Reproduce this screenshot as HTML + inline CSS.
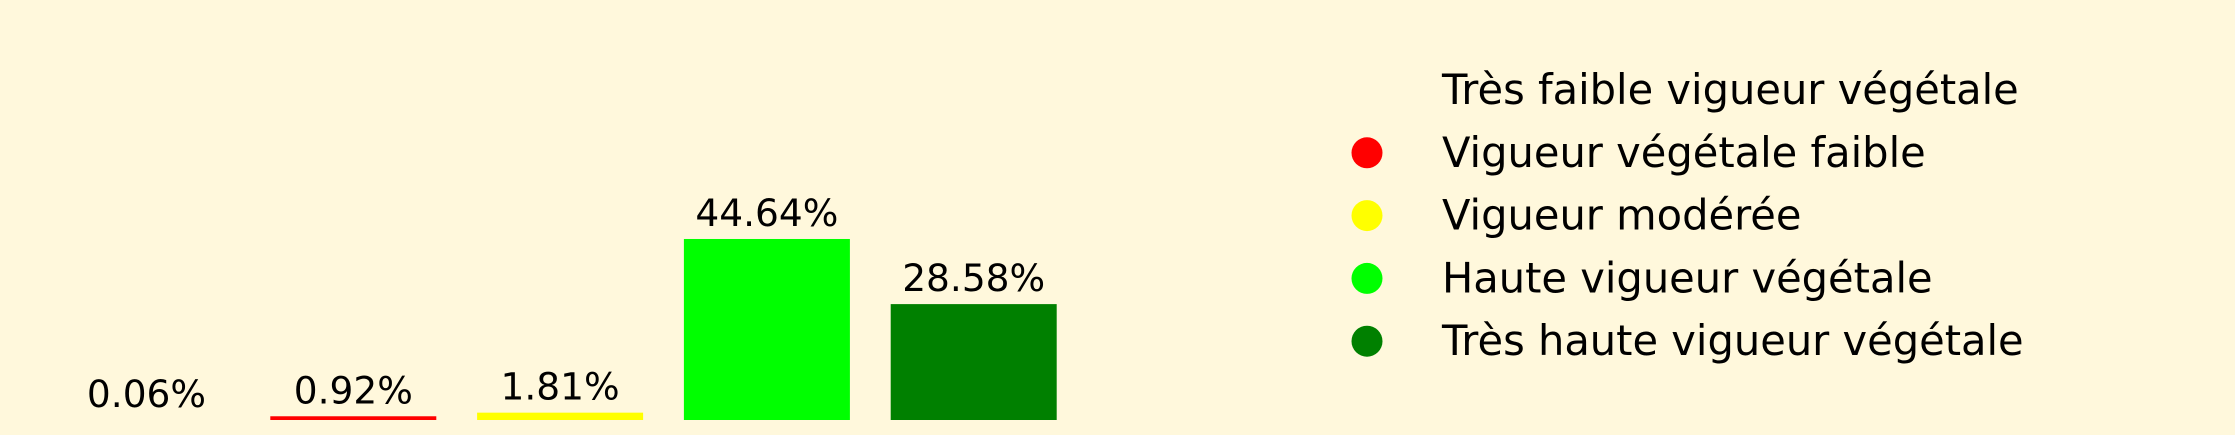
<!DOCTYPE html>
<html><head><meta charset="utf-8"><style>
html,body{margin:0;padding:0;background:#FFF8DC;}
svg{display:block;font-family:"DejaVu Sans","Liberation Sans",sans-serif;}
</style></head><body>
<svg id="chart" width="2235" height="435" viewBox="0 0 2235 435" xmlns="http://www.w3.org/2000/svg">
<rect x="0" y="0" width="2235" height="435" fill="#FFF8DC"/>
<g id="bars"></g>
<g id="labels"></g>
<g id="legend"></g>
</svg>
<script>
const categories = ["Très faible vigueur végétale","Vigueur végétale faible","Vigueur modérée","Haute vigueur végétale","Très haute vigueur végétale"];
const values = [0.06, 0.92, 1.81, 44.64, 28.58];
const colors = ["#FFF8DC","#FF0000","#FFFF00","#00FF00","#008000"];
const valueLabels = ["0.06%","0.92%","1.81%","44.64%","28.58%"];

const NS="http://www.w3.org/2000/svg";
const baseY=420, pxPerUnit=4.055, firstCenter=146.5, step=206.8, barW=166;
function xScale(i){return firstCenter+i*step;}
function yScale(v){return baseY - v*pxPerUnit;}
const bars=document.getElementById('bars'), labels=document.getElementById('labels'), legend=document.getElementById('legend');
values.forEach((v,i)=>{
  const r=document.createElementNS(NS,'rect');
  r.setAttribute('x',xScale(i)-barW/2);
  r.setAttribute('y',yScale(v));
  r.setAttribute('width',barW);
  r.setAttribute('height',baseY-yScale(v));
  r.setAttribute('fill',colors[i]);
  
  
  bars.appendChild(r);
  const t=document.createElementNS(NS,'text');
  t.setAttribute('x',xScale(i));
  t.setAttribute('y',yScale(v)-13);
  t.setAttribute('text-anchor','middle');
  t.setAttribute('font-size','37.5');
  t.setAttribute('fill','#000');
  t.textContent=valueLabels[i];
  
  
  labels.appendChild(t);
});
categories.forEach((c,i)=>{
  const cy=90+i*62.8;
  const g=document.createElementNS(NS,'g');
  
  
  const ci=document.createElementNS(NS,'circle');
  ci.setAttribute('cx',1367);ci.setAttribute('cy',cy);ci.setAttribute('r',15.5);
  ci.setAttribute('fill',colors[i]);
  
  
  g.appendChild(ci);
  const t=document.createElementNS(NS,'text');
  t.setAttribute('x',1442);t.setAttribute('y',cy+14);
  t.setAttribute('font-size','41.6');t.setAttribute('fill','#000');
  t.textContent=c;
  
  
  g.appendChild(t);
  legend.appendChild(g);
});
</script>
</body></html>
